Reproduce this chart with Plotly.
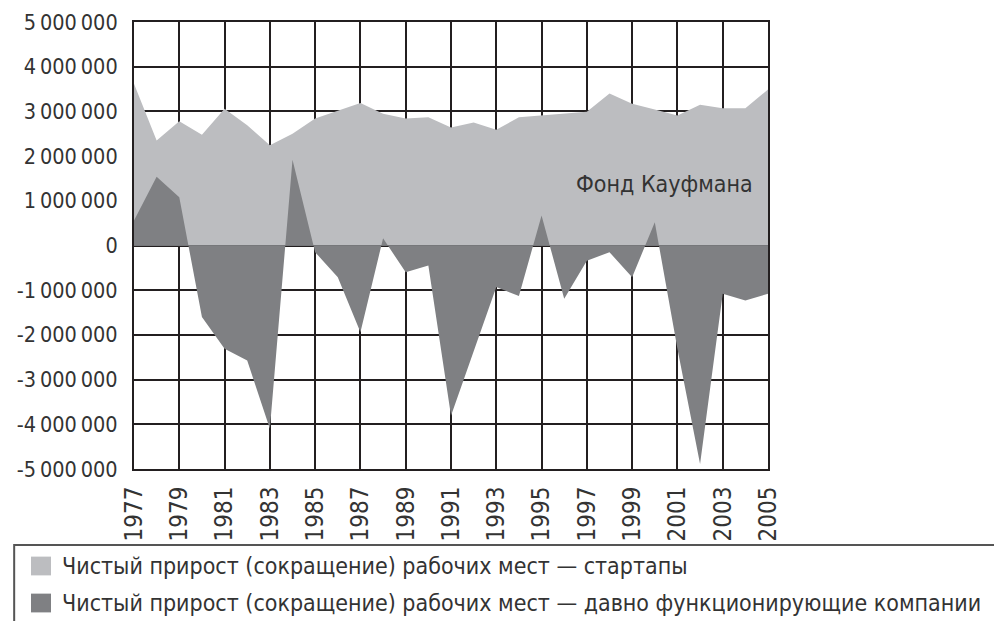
import plotly.graph_objs as go

years = list(range(1977, 2006))

# net job creation (losses), startups
startups = [3620000, 2350000, 2780000, 2480000, 3060000, 2690000, 2240000, 2500000,
            2840000, 3020000, 3190000, 2950000, 2840000, 2870000, 2640000, 2750000,
            2590000, 2870000, 2910000, 2950000, 2990000, 3400000, 3170000, 3040000,
            2910000, 3150000, 3070000, 3070000, 3490000]

# net job creation (losses), existing firms
existing = [560000, 1540000, 1080000, -1600000, -2310000, -2570000, -4100000, 1920000,
            -150000, -710000, -1940000, 160000, -600000, -450000, -3810000, -2350000,
            -930000, -1130000, 670000, -1190000, -340000, -150000, -710000, 520000,
            -2310000, -4890000, -1080000, -1230000, -1080000]

y_ticks = list(range(-5000000, 5000001, 1000000))
y_labels = [("-" if v < 0 else "") + f"{abs(v):,}".replace(",", "\u2009") for v in y_ticks]
x_ticks = list(range(1977, 2006, 2))

legend_labels = ["Чистый прирост (сокращение) рабочих мест — стартапы",
                 "Чистый прирост (сокращение) рабочих мест — давно функционирующие компании"]
note = "Фонд Кауфмана"

FONT = "DejaVu Sans Condensed, Liberation Sans Narrow, sans-serif"
TXT = "#333333"
GRID = "#231f20"
LIGHT = "#bcbdc0"
DARK = "#7f8083"

fig = go.Figure()
fig.add_trace(go.Scatter(x=years, y=startups, mode="lines", fill="tozeroy",
                         fillcolor=LIGHT, line=dict(width=0, color=LIGHT),
                         name=legend_labels[0], hoverinfo="skip"))
fig.add_trace(go.Scatter(x=years, y=existing, mode="lines", fill="tozeroy",
                         fillcolor=DARK, line=dict(width=0, color=DARK),
                         name=legend_labels[1], hoverinfo="skip"))

fig.add_annotation(x=2000.45, y=1380000, text=note, showarrow=False,
                   font=dict(family=FONT, size=23, color=TXT))

# legend drawn by hand: box, swatches, labels
fig.add_shape(type="rect", xref="paper", yref="paper", x0=-0.189, x1=1.39, y0=-0.170, y1=-0.37,
              line=dict(color="#555555", width=2), fillcolor="rgba(0,0,0,0)")
for i, (col, lab) in enumerate(zip([LIGHT, DARK], legend_labels)):
    yc = -0.217 - i * 0.0828
    fig.add_shape(type="rect", xref="paper", yref="paper", x0=-0.1625, x1=-0.1309,
                  y0=yc + 0.021, y1=yc - 0.021, line=dict(width=0), fillcolor=col)
    fig.add_annotation(xref="paper", yref="paper", x=-0.1167, y=yc, xanchor="left",
                       yanchor="middle", text=lab, showarrow=False,
                       font=dict(family=FONT, size=23, color=TXT))

fig.update_xaxes(range=[1977, 2005], tickvals=x_ticks, tickangle=-90,
                 showgrid=True, gridcolor=GRID, gridwidth=2,
                 showline=True, mirror=True, linecolor=GRID, linewidth=2,
                 zeroline=False, ticks="", ticklabelstandoff=6, automargin=False,
                 tickfont=dict(family=FONT, size=24, color=TXT))
fig.update_yaxes(range=[-5000000, 5000000], tickvals=y_ticks, ticktext=y_labels,
                 showgrid=True, gridcolor=GRID, gridwidth=2,
                 showline=True, mirror=True, linecolor=GRID, linewidth=2,
                 zeroline=False, ticks="", ticklabelstandoff=10, automargin=False,
                 tickfont=dict(family=FONT, size=21.5, color=TXT))

# page body adds an 8px offset, so the figure is 8px smaller
fig.update_layout(width=994, height=613, showlegend=False,
                  margin=dict(l=126, r=234, t=14, b=152),
                  plot_bgcolor="white", paper_bgcolor="white")

fig.write_html("out.html")
